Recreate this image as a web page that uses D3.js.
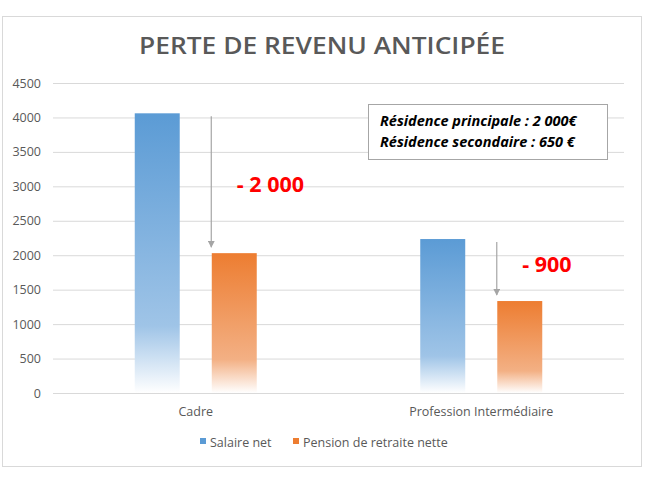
<!DOCTYPE html>
<html>
<head>
<meta charset="utf-8">
<script src="https://cdn.jsdelivr.net/npm/d3@7"></script>
<style>
  body { margin: 0; background: #fff; }
  text { font-family: "Open Sans", sans-serif; }
</style>
</head>
<body>
<script>
// data
var categories = ["Cadre", "Profession Intermédiaire"];
var seriesNames = ["Salaire net", "Pension de retraite nette"];
var salaire = [4060, 2235];
var pension = [2030, 1335];
var dropLabels = ["- 2 000", "- 900"];
var yTicks = [0, 500, 1000, 1500, 2000, 2500, 3000, 3500, 4000, 4500];
var noteLines = ["Résidence principale : 2 000€", "Résidence secondaire : 650 €"];

var svgWidth = 646;
var svgHeight = 484;

var chartMargin = { top: 83, right: 22, bottom: 91, left: 53 };
var chartWidth = svgWidth - chartMargin.left - chartMargin.right;
var chartHeight = svgHeight - chartMargin.top - chartMargin.bottom;

var colors = ["#5b9bd5", "#ed7d31"];
var midColors = ["#9fc4e7", "#f3b084"];
var labelShift = [9, 2];

var svg = d3.select("body")
  .append("svg")
  .attr("width", svgWidth)
  .attr("height", svgHeight);

// gradients: solid at top, fading out near the base
var defs = svg.append("defs");
colors.forEach(function(c, i) {
  var g = defs.append("linearGradient")
    .attr("id", "grad" + i)
    .attr("x1", 0).attr("y1", 0).attr("x2", 0).attr("y2", 1);
  g.append("stop").attr("offset", "0").attr("stop-color", c);
  g.append("stop").attr("offset", "0.76").attr("stop-color", midColors[i]);
  g.append("stop").attr("offset", "1").attr("stop-color", "#ffffff");
});
defs.append("marker")
  .attr("id", "arrow")
  .attr("viewBox", "0 0 10 10")
  .attr("refX", 9).attr("refY", 5)
  .attr("markerWidth", 7).attr("markerHeight", 7)
  .attr("markerUnits", "userSpaceOnUse")
  .attr("orient", "auto")
  .append("path")
  .attr("d", "M0,0 L10,5 L0,10 z")
  .attr("fill", "#a5a5a5");

// outer frame
svg.append("rect")
  .attr("x", 2.5).attr("y", 16.5)
  .attr("width", 639).attr("height", 450)
  .attr("fill", "#fff")
  .attr("stroke", "#d9d9d9");

// title
svg.append("text")
  .attr("x", 322)
  .attr("y", 54)
  .attr("text-anchor", "middle")
  .attr("font-size", 24)
  .attr("font-weight", 600)
  .attr("fill", "#595959")
  .attr("textLength", 366)
  .attr("lengthAdjust", "spacingAndGlyphs")
  .text("PERTE DE REVENU ANTICIPÉE");

var chartGroup = svg.append("g")
  .attr("transform", `translate(${chartMargin.left}, ${chartMargin.top})`);

var xScale = d3.scaleBand()
  .domain(categories)
  .range([0, chartWidth]);

var xInner = d3.scaleBand()
  .domain(seriesNames)
  .range([0, 122])
  .paddingInner(0.416);

var yScale = d3.scaleLinear()
  .domain([0, 4500])
  .range([chartHeight, 0]);

// gridlines + y labels
var leftAxis = d3.axisLeft(yScale)
  .tickValues(yTicks)
  .tickFormat(d3.format("d"))
  .tickSize(-chartWidth)
  .tickPadding(12);

var yAxis = chartGroup.append("g").call(leftAxis);
yAxis.select(".domain").remove();
yAxis.selectAll("line").attr("stroke", "#d9d9d9");
yAxis.selectAll("text")
  .attr("fill", "#595959")
  .attr("font-size", 12.5)
  .style("font-family", "Open Sans, sans-serif");

// bars
var groups = chartGroup.selectAll(".cat")
  .data(categories)
  .enter()
  .append("g")
  .attr("transform", d => `translate(${xScale(d) + xScale.bandwidth() / 2 - 61}, 0)`);

groups.each(function(cat, i) {
  var g = d3.select(this);
  var vals = [salaire[i], pension[i]];
  vals.forEach(function(v, j) {
    g.append("rect")
      .attr("x", xInner(seriesNames[j]))
      .attr("y", yScale(v))
      .attr("width", xInner.bandwidth())
      .attr("height", chartHeight - yScale(v))
      .attr("fill", "url(#grad" + j + ")");
  });

  // arrow from salaire level down to pension level
  var ax = xInner(seriesNames[1]) - 0.5;
  g.append("line")
    .attr("x1", ax).attr("x2", ax)
    .attr("y1", yScale(salaire[i]) + 3)
    .attr("y2", yScale(pension[i]) - 6)
    .attr("stroke", "#a5a5a5")
    .attr("stroke-width", 1.2)
    .attr("marker-end", "url(#arrow)");

  g.append("text")
    .attr("x", xInner(seriesNames[1]) + 25)
    .attr("y", yScale((salaire[i] + pension[i]) / 2) + labelShift[i])
    .attr("fill", "#ff0000")
    .attr("font-size", 21.5)
    .attr("font-weight", "bold")
    .text(dropLabels[i]);
});

// x axis line and labels
chartGroup.append("line")
  .attr("x1", 0).attr("x2", chartWidth)
  .attr("y1", chartHeight + 0.5).attr("y2", chartHeight + 0.5)
  .attr("stroke", "#d9d9d9");

chartGroup.selectAll(".xlab")
  .data(categories)
  .enter()
  .append("text")
  .attr("x", d => xScale(d) + xScale.bandwidth() / 2)
  .attr("y", chartHeight + 23)
  .attr("text-anchor", "middle")
  .attr("font-size", 12.5)
  .attr("fill", "#595959")
  .text(d => d);

// note box
var note = svg.append("g").attr("transform", "translate(368, 104)");
note.append("rect")
  .attr("x", 0.5).attr("y", 0.5)
  .attr("width", 239).attr("height", 55)
  .attr("fill", "#fff")
  .attr("stroke", "#a6a6a6");
note.selectAll("text")
  .data(noteLines)
  .enter()
  .append("text")
  .attr("x", 12)
  .attr("y", (d, i) => 22 + i * 21)
  .attr("font-size", 14.5)
  .attr("font-weight", "bold")
  .attr("font-style", "italic")
  .attr("fill", "#000")
  .text(d => d);

// legend
var legendX = [200, 293];
var legend = svg.selectAll(".leg")
  .data(seriesNames)
  .enter()
  .append("g")
  .attr("transform", (d, i) => `translate(${legendX[i]}, 443)`);
legend.append("rect")
  .attr("x", 0).attr("y", -5)
  .attr("width", 6).attr("height", 6)
  .attr("fill", (d, i) => colors[i]);
legend.append("text")
  .attr("x", 10)
  .attr("y", 0)
  .attr("dy", "0.35em")
  .attr("font-size", 12.5)
  .attr("fill", "#595959")
  .text(d => d);
</script>
</body>
</html>
